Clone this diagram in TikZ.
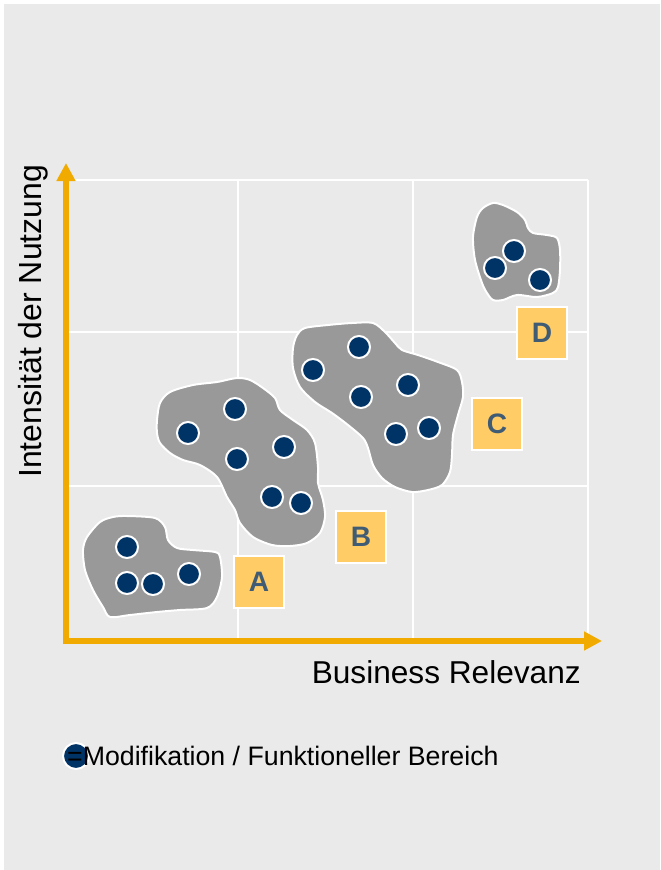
\documentclass[tikz,border=0pt]{standalone}
\usepackage{fontspec}
\setmainfont{Liberation Sans}
\usetikzlibrary{arrows.meta}
\definecolor{bggrey}{RGB}{234,234,234}
\definecolor{axorange}{RGB}{240,170,0}
\definecolor{blobgrey}{RGB}{153,153,153}
\definecolor{dotnavy}{RGB}{0,51,102}
\definecolor{boxyellow}{RGB}{255,204,102}
\definecolor{lettergrey}{RGB}{64,92,117}
\newcommand{\fsz}[1]{\fontsize{#1}{1.2\dimexpr#1\relax}\selectfont}

\begin{document}
\begin{tikzpicture}[x=0.03cm, y=-0.03cm,
  dot/.style={circle, draw=white, line width=1.7pt, fill=dotnavy,
    minimum size=0.66cm, inner sep=0pt},
  blob/.style={draw=white, line width=1.7pt, fill=blobgrey},
  lettbox/.style={draw=white, line width=1.7pt, fill=boxyellow,
    minimum width=1.5cm, minimum height=1.56cm, inner sep=0pt,
    text=lettergrey, font=\fsz{24pt}\bfseries},
  axis/.style={axorange, line width=5.1pt, line join=miter,
    {Triangle[length=0.54cm,width=0.54cm]}-{Triangle[length=0.54cm,width=0.54cm]}},
  gridline/.style={white, line width=1.7pt}]

  \useasboundingbox (0,0) rectangle (660,870);
  \fill[white] (0,0) rectangle (660,870);
  \fill[bggrey] (4,4) rectangle (660,870);

  %% grid
  \foreach \gx in {238,413,588} \draw[gridline] (\gx,180) -- (\gx,641);
  \foreach \gy in {180,332,486} \draw[gridline] (66,\gy) -- (588,\gy);

  %% axes
  \coordinate (origin) at (66,641);
  \coordinate (ytop) at (66,163);
  \coordinate (xend) at (602,641);
  \draw[axis] (ytop) |- (xend);

  \node[anchor=base east, inner sep=0pt, font=\fsz{27pt}]
    (xlab) at (581,683) {Business Relevanz};
  \node[rotate=90, anchor=base west, inner sep=0pt, font=\fsz{27.3pt}]
    (ylab) at (41,478) {Intensität der Nutzung};

  %% cluster A
  \draw[blob] plot[smooth cycle, tension=0.5] coordinates {(87,537) (100,522) (113,517)
    (127,516) (155,518) (165,527) (168,540) (177,548) (193,550) (215,552) (220,557)
    (222,577) (217,597) (207,608) (180,610) (157,612) (130,615) (110,617) (103,607)
    (93,590) (85,570) (83,550)};
  \node[dot] (a1) at (127,547) {};
  \node[dot] (a2) at (127,583) {};
  \node[dot] (a3) at (153,584) {};
  \node[dot] (a4) at (189,574) {};

  %% cluster B
  \draw[blob] plot[smooth cycle, tension=0.5] coordinates {(157,420) (160,403) (170,392)
    (193,385) (217,382) (237,378) (250,380) (263,388) (275,398) (280,410) (293,420)
    (307,430) (315,443) (318,467) (318,483) (323,500) (325,517) (320,533) (307,543)
    (290,546) (272,545) (253,537) (240,523) (235,510) (227,497) (217,477) (200,465)
    (183,460) (170,453) (160,443) (157,433)};
  \node[dot] (b1) at (188,433) {};
  \node[dot] (b2) at (235,409) {};
  \node[dot] (b3) at (237,459) {};
  \node[dot] (b4) at (284,447) {};
  \node[dot] (b5) at (272,497) {};
  \node[dot] (b6) at (301,503) {};

  %% cluster C
  \draw[blob] plot[smooth cycle, tension=0.5] coordinates {(297,335) (305,328) (328,325)
    (352,323) (373,323) (385,332) (395,343) (402,350) (418,355) (438,362) (457,370)
    (462,382) (463,397) (458,415) (453,435) (452,455) (450,472) (442,485) (428,490)
    (412,492) (395,487) (382,478) (373,465) (368,448) (363,438) (348,425) (332,413)
    (315,402) (300,387) (293,368) (293,348)};
  \node[dot] (c1) at (313,370) {};
  \node[dot] (c2) at (359,347) {};
  \node[dot] (c3) at (361,397) {};
  \node[dot] (c4) at (408,385) {};
  \node[dot] (c5) at (396,434) {};
  \node[dot] (c6) at (429,428) {};

  %% cluster D
  \draw[blob] plot[smooth cycle, tension=0.5] coordinates {(477,217) (483,208) (493,203)
    (503,205) (517,212) (525,220) (528,228) (533,233) (547,235) (557,238) (560,250)
    (560,270) (558,287) (553,293) (537,297) (517,295) (503,300) (493,300) (487,293)
    (482,283) (475,260) (473,237)};
  \node[dot] (d1) at (495,268) {};
  \node[dot] (d2) at (514,251) {};
  \node[dot] (d3) at (540,280) {};

  %% letters
  \node[lettbox] (boxA) at (259,582) {A};
  \node[lettbox] (boxB) at (361,537) {B};
  \node[lettbox] (boxC) at (497,424) {C};
  \node[lettbox] (boxD) at (542,333) {D};

  %% legend
  \node[dot, minimum size=0.78cm] (legdot) at (76,756) {};
  \node[anchor=base west, inner sep=0pt, font=\fsz{22.8pt}]
    (legtext) at (67,765) {=Modifikation / Funktioneller Bereich};

\end{tikzpicture}
\end{document}
